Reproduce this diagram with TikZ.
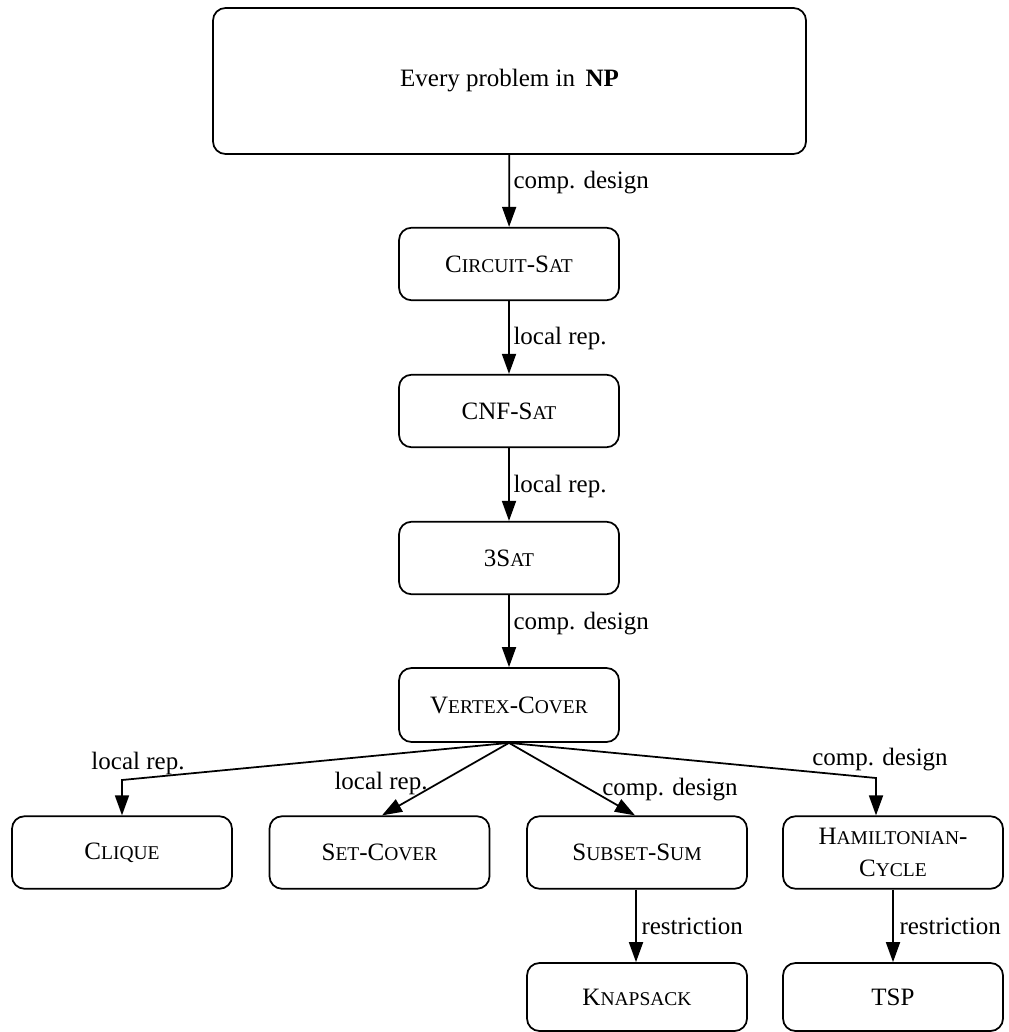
\documentclass[tikz,border=0pt]{standalone}
\usepackage{fontspec}
\setmainfont{Liberation Serif}
\usetikzlibrary{arrows.meta}
\newcommand\sm[1]{{\fontsize{7.8}{9}\selectfont #1}}
\tikzset{
  box/.style={draw, line width=0.7pt, rounded corners=5pt, minimum width=88pt, minimum height=29pt, inner sep=0pt, align=center, font=\fontsize{10}{11}\selectfont},
  conn/.style={line width=0.7pt, -{Triangle[length=8pt,width=5.6pt]}},
  lab/.style={font=\fontsize{10}{12}\selectfont, inner sep=0pt},
}
\begin{document}
\begin{tikzpicture}[x=0.4pt,y=-0.4pt]
\useasboundingbox (0,0) rectangle (1008,1032);
\node[box, minimum width=237.2pt, minimum height=58.4pt] (np) at (509.5,81) {Every problem in\, \textbf{NP}};
\node[box] (cs) at (509,264) {C\sm{IRCUIT}-S\sm{AT}};
\node[box] (cnf) at (509,411) {CNF-S\sm{AT}};
\node[box] (s3) at (509,558) {3S\sm{AT}};
\node[box, minimum height=29.6pt] (vc) at (509,705) {V\sm{ERTEX}-C\sm{OVER}};
\node[box] (cl) at (122,852.5) {C\sm{LIQUE}};
\node[box] (sc) at (379.5,852.5) {S\sm{ET}-C\sm{OVER}};
\node[box] (ss) at (637,852.5) {S\sm{UBSET}-S\sm{UM}};
\node[box] (hc) at (893,852.5) {H\sm{AMILTONIAN}-\\[2pt]C\sm{YCLE}};
\node[box, minimum height=27.2pt] (kn) at (637,997) {K\sm{NAPSACK}};
\node[box, minimum height=27.2pt] (tsp) at (893,997) {TSP};

\coordinate (b1) at (122,780);
\coordinate (b4) at (876,778);

\draw[conn] (np) -- (cs);
\draw[conn] (cs) -- (cnf);
\draw[conn] (cnf) -- (s3);
\draw[conn] (s3) -- (vc);
\draw[conn] (vc.south) -- (b1) -- (cl.north);
\draw[conn] (vc.south) -- (sc.north -| 382,0);
\draw[conn] (vc.south) -- (ss.north -| 635,0);
\draw[conn] (vc.south) -- (b4) -- (b4 |- hc.north);
\draw[conn] (ss.south -| 636,0) -- (kn.north -| 636,0);
\draw[conn] (hc) -- (tsp);

\node[lab, anchor=west] (l1) at (513,183) {comp. design};
\node[lab, anchor=west] (l2) at (513,338) {local rep.};
\node[lab, anchor=west] (l3) at (513,486) {local rep.};
\node[lab, anchor=west] (l4) at (513,624) {comp. design};
\node[lab] (l5) at (138,763) {local rep.};
\node[lab] (l6) at (381,783) {local rep.};
\node[lab] (l7) at (670,790) {comp. design};
\node[lab] (l8) at (880,760) {comp. design};
\node[lab, anchor=west] (l9) at (641,926) {restriction};
\node[lab, anchor=west] (l10) at (899,926) {restriction};
\end{tikzpicture}
\end{document}
